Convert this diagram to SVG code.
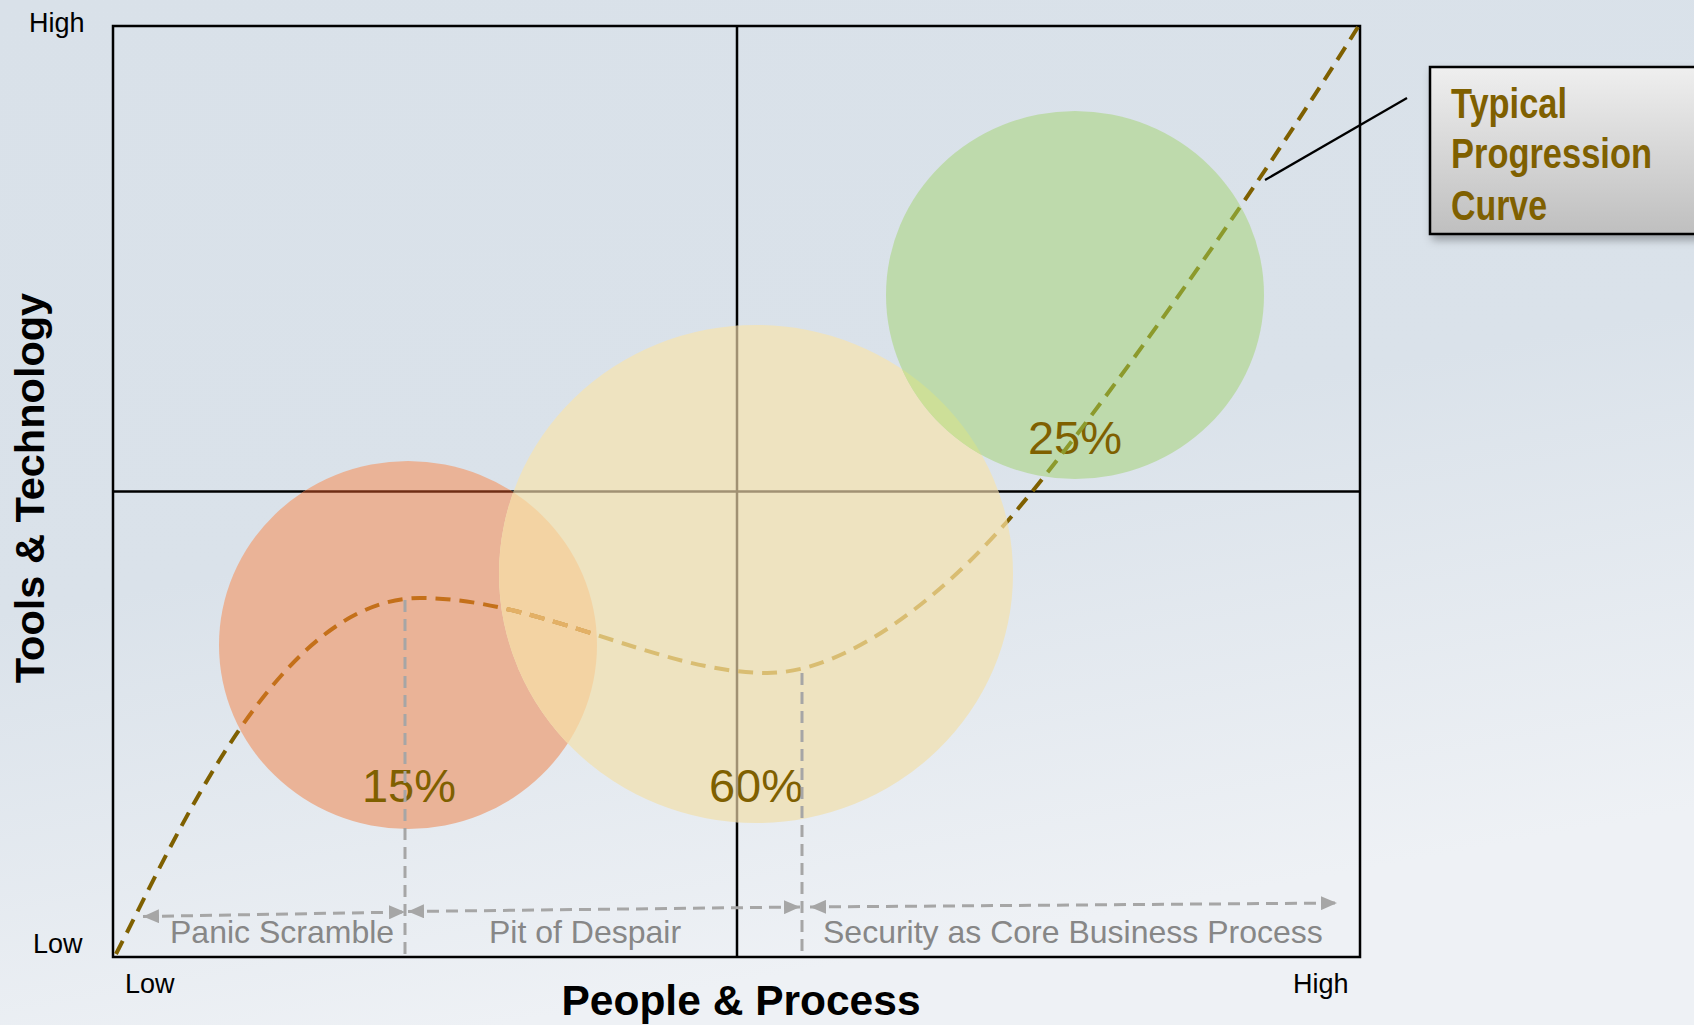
<svg xmlns="http://www.w3.org/2000/svg" xmlns:xlink="http://www.w3.org/1999/xlink" width="1694" height="1025" viewBox="0 0 1694 1025">
<style>
.grid{fill:none;stroke-width:2.5}
.curve{fill:none;stroke-width:4;stroke-dasharray:15 9}
.gdash{fill:none;stroke:#a6a6a6;stroke-width:3;stroke-dasharray:12 7}
.ax{font-family:"Liberation Sans",Arial,sans-serif;font-size:27px;fill:#000}
.pct{font-family:"Liberation Sans",Arial,sans-serif;font-size:47px;fill:#7f6000;text-anchor:middle}
.phase{font-family:"Liberation Sans",Arial,sans-serif;font-size:32px;fill:#878787}
.title{font-family:"Liberation Sans",Arial,sans-serif;font-weight:bold;fill:#000;text-anchor:middle}
.call{font-family:"Liberation Sans",Arial,sans-serif;font-size:42px;font-weight:bold;fill:#7f6000}
</style>
<defs>
<linearGradient id="bg" x1="0" y1="0" x2="0.3" y2="1">
<stop offset="0" stop-color="#d9e1e9"/>
<stop offset="0.55" stop-color="#dae2ea"/>
<stop offset="1" stop-color="#eef1f5"/>
</linearGradient>
<linearGradient id="boxg" x1="0" y1="0" x2="0" y2="1">
<stop offset="0" stop-color="#efefef"/>
<stop offset="1" stop-color="#bfbfbf"/>
</linearGradient>
<filter id="sh" x="-10%" y="-10%" width="130%" height="140%">
<feDropShadow dx="3" dy="5" stdDeviation="4" flood-color="#000" flood-opacity="0.3"/>
</filter>
<marker id="ah" viewBox="0 0 16 14" refX="16" refY="7" markerWidth="16" markerHeight="14" markerUnits="userSpaceOnUse" orient="auto-start-reverse">
<path d="M0,0 L16,7 L0,14 Z" fill="#a6a6a6"/>
</marker>
<path id="curvePath" d="M116,954 C180,830 280,598 420,598 C540,598 660,673 767,673 C850,673 950,590 1017,510 C1100,411 1250,200 1358,27"/>
<g id="gridLines">
<rect x="113" y="26" width="1247" height="931"/>
<line x1="737" y1="26" x2="737" y2="957"/>
<line x1="113" y1="491.5" x2="1360" y2="491.5"/>
</g>
<clipPath id="cRed"><ellipse cx="408" cy="645" rx="189" ry="184"/></clipPath>
<clipPath id="cYel"><ellipse cx="756" cy="574" rx="257" ry="249"/></clipPath>
<clipPath id="cGrn"><ellipse cx="1075" cy="295" rx="189" ry="184"/></clipPath>
</defs>

<rect id="background" x="0" y="0" width="1694" height="1025" fill="url(#bg)"/>

<g id="grid">
<use xlink:href="#gridLines" class="grid" stroke="#000"/>
</g>

<g id="curve-base">
<use xlink:href="#curvePath" class="curve" stroke="#7f6000"/>
</g>

<g id="bubble-15">
<ellipse cx="408" cy="645" rx="189" ry="184" fill="#eab397"/>
</g>
<g id="bubble-60">
<ellipse cx="756" cy="574" rx="257" ry="249" fill="#eee3c0"/>
<g clip-path="url(#cRed)"><ellipse cx="756" cy="574" rx="257" ry="249" fill="#f3d3a3"/></g>
</g>
<g id="bubble-25">
<ellipse cx="1075" cy="295" rx="189" ry="184" fill="#bedaac"/>
<g clip-path="url(#cYel)"><ellipse cx="1075" cy="295" rx="189" ry="184" fill="#cddf98"/></g>
</g>

<g id="percentages">
<text class="pct" x="409" y="802">15%</text>
<text class="pct" x="756" y="802">60%</text>
<text class="pct" x="1075" y="454">25%</text>
</g>

<g id="tinted-overlays">
<g clip-path="url(#cRed)"><use xlink:href="#gridLines" class="grid" stroke="#6e2d14"/></g>
<g clip-path="url(#cYel)"><use xlink:href="#gridLines" class="grid" stroke="#a09173"/></g>
<g clip-path="url(#cRed)"><use xlink:href="#curvePath" class="curve" stroke="#c4701a"/></g>
<g clip-path="url(#cYel)"><use xlink:href="#curvePath" class="curve" stroke="#d9bd72"/></g>
<g clip-path="url(#cRed)"><g clip-path="url(#cYel)"><use xlink:href="#curvePath" class="curve" stroke="#e3b066"/></g></g>
<g clip-path="url(#cGrn)"><use xlink:href="#curvePath" class="curve" stroke="#8c9a2c"/></g>
</g>

<g id="connectors">
<line class="gdash" x1="405" y1="600" x2="405" y2="957"/>
<line class="gdash" x1="802" y1="673" x2="802" y2="957"/>
<line class="gdash" x1="143" y1="916.5" x2="405" y2="912" marker-start="url(#ah)" marker-end="url(#ah)"/>
<line class="gdash" x1="408" y1="911.5" x2="800" y2="907" marker-start="url(#ah)" marker-end="url(#ah)"/>
<line class="gdash" x1="810" y1="907" x2="1337" y2="903" marker-start="url(#ah)" marker-end="url(#ah)"/>
<line x1="1265" y1="180" x2="1407" y2="98" stroke="#000" stroke-width="2.2"/>
</g>

<g id="phase-labels">
<text class="phase" x="170" y="943">Panic Scramble</text>
<text class="phase" x="489" y="943">Pit of Despair</text>
<text class="phase" x="823" y="943">Security as Core Business Process</text>
</g>

<g id="axis-labels">
<text class="ax" x="29" y="32">High</text>
<text class="ax" x="33" y="953">Low</text>
<text class="ax" x="125" y="993">Low</text>
<text class="ax" x="1293" y="993">High</text>
<text class="title" x="741" y="1015" style="font-size:42.5px">People &amp; Process</text>
<text class="title" transform="translate(44,488) rotate(-90)" style="font-size:41.5px">Tools &amp; Technology</text>
</g>

<g id="callout">
<rect x="1430" y="67" width="290" height="167" fill="url(#boxg)" stroke="#000" stroke-width="2.5" filter="url(#sh)"/>
<text class="call" x="1451" y="118" textLength="116" lengthAdjust="spacingAndGlyphs">Typical</text>
<text class="call" x="1451" y="168" textLength="201" lengthAdjust="spacingAndGlyphs">Progression</text>
<text class="call" x="1451" y="220" textLength="96" lengthAdjust="spacingAndGlyphs">Curve</text>
</g>
</svg>
